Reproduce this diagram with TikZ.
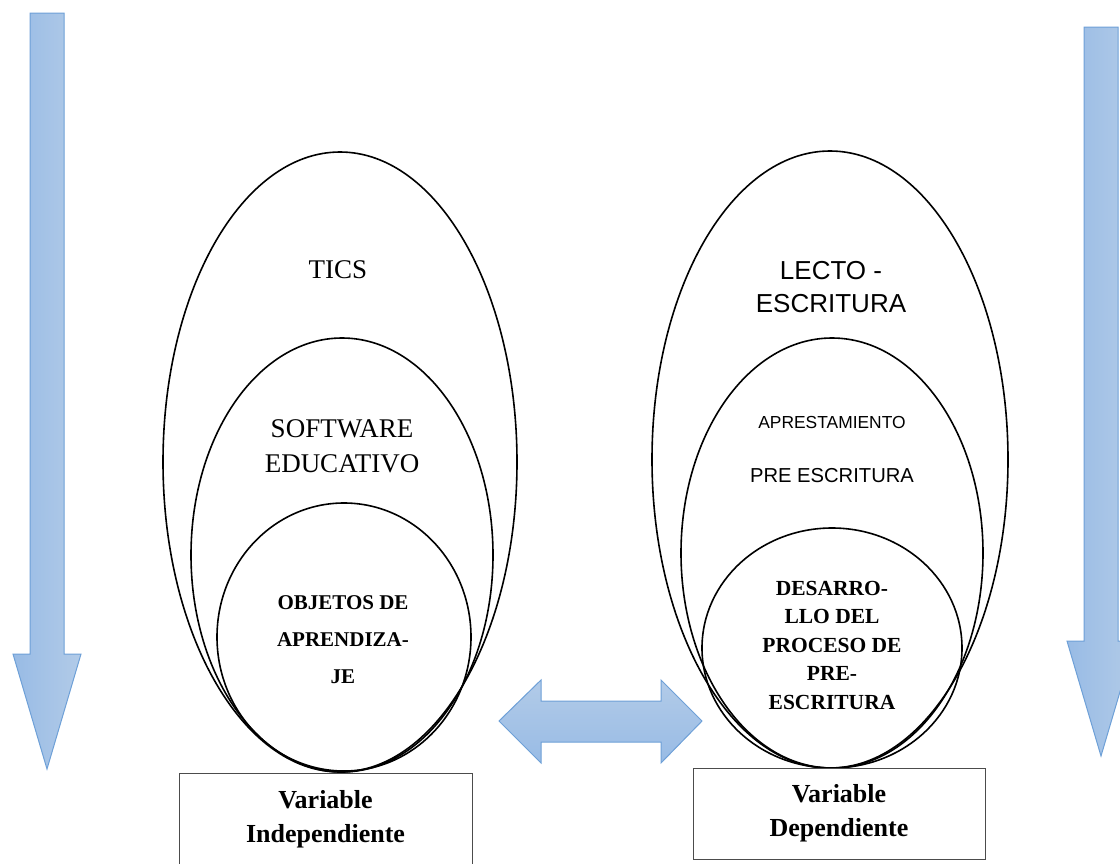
\documentclass[tikz,border=0pt]{standalone}
\usepackage{fontspec}
\setmainfont{Liberation Serif}
\newfontfamily\sansf{Liberation Sans}
\definecolor{arrowline}{RGB}{110,160,215}
\definecolor{arrowdark}{RGB}{152,187,229}
\definecolor{arrowlight}{RGB}{178,203,232}
\begin{document}
\begin{tikzpicture}[x=1pt,y=-1pt,oval/.style={line width=1.6pt},bigarrow/.style={draw=arrowline,line width=1pt,line join=miter},varbox/.style={draw=black!70,line width=1pt,inner sep=0pt,minimum width=293pt,align=center,font=\fontsize{26}{34}\selectfont\bfseries},lbl/.style={align=center,inner sep=0pt}]
\useasboundingbox (0,0) rectangle (1120,863);
\foreach \cx/\ty/\hy/\tip in {47/13/654/769,1101/27/641/756}{\draw[bigarrow,left color=arrowdark,right color=arrowlight](\cx-17,\ty)--(\cx+17,\ty)--(\cx+17,\hy)--(\cx+34,\hy)--(\cx,\tip)--(\cx-34,\hy)--(\cx-17,\hy)--cycle;}
\draw[bigarrow,top color=arrowlight,bottom color=arrowdark](499,721)--(541,680)--(541,701)--(661,701)--(661,680)--(702,721)--(661,763)--(661,742)--(541,742)--(541,763)--cycle;
\draw[oval](340,462)ellipse[x radius=177,y radius=310];
\draw[oval](342,555)ellipse[x radius=151,y radius=217];
\draw[oval](344,637)ellipse[x radius=127,y radius=134];
\draw[oval](830,459.5)ellipse[x radius=178,y radius=308.5];
\draw[oval](832,553)ellipse[x radius=151,y radius=215];
\draw[oval](832,648)ellipse[x radius=130,y radius=120];
\node[lbl,font=\fontsize{27}{35}\selectfont](tics) at (338,270){TICS};
\node[lbl,font=\fontsize{27}{35}\selectfont](soft) at (342,446){SOFTWARE\\EDUCATIVO};
\node[lbl,font=\fontsize{21}{37}\selectfont\bfseries](obj) at (343,640){OBJETOS DE\\APRENDIZA-\\JE};
\node[lbl,font=\sansf\fontsize{26}{33}\selectfont](lecto) at (831,287){LECTO -\\ESCRITURA};
\node[lbl,font=\sansf\fontsize{17.4}{20}\selectfont](apres) at (832,423){APRESTAMIENTO};
\node[lbl,font=\sansf\fontsize{20.2}{24}\selectfont](pre) at (832,476){PRE ESCRITURA};
\node[lbl,font=\fontsize{21.5}{28.5}\selectfont\bfseries](des) at (832,645){DESARRO-\\LLO DEL\\PROCESO DE\\PRE-\\ESCRITURA};
\node[varbox,minimum height=92pt](vi) at (325.5,819){Variable\\Independiente};
\node[varbox,minimum height=91pt,minimum width=292pt](vd) at (839,813.5){Variable\\Dependiente};
\end{tikzpicture}
\end{document}
